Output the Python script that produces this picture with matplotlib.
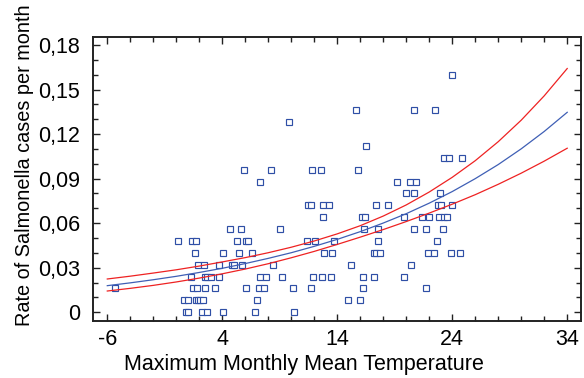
#!/usr/bin/env python3
"""
plot.py - Salmonella rate vs maximum monthly mean temperature
Scatter of monthly rates with fitted curve and confidence limits
"""

import matplotlib
matplotlib.use("Agg")
import matplotlib.pyplot as plt
from matplotlib.ticker import MultipleLocator, FuncFormatter

# Observed monthly rates (x = temperature, y = rate)
temp = [0.82, 0.99, 2.26, 2.70, 4.03, 6.87, 10.23,
        0.70, 1.04, 1.69, 1.86, 2.06, 2.35, 7.04, 14.90, 16.00,
        -5.33, 1.48, 1.77, 2.52, 3.39, 6.03, 7.19, 7.63, 10.12, 11.74, 16.23, 21.69,
        1.28, 2.52, 2.70, 3.04, 3.71, 7.28, 7.80, 9.22, 11.91, 12.64, 13.43, 16.23, 17.22, 19.83,
        1.86, 2.38, 3.71, 4.82, 5.02, 5.74, 8.38, 15.17, 20.43,
        1.60, 4.09, 5.45, 6.56, 12.82, 13.57, 17.17, 17.39, 17.69, 21.86, 22.43, 23.86, 24.70,
        0.17, 1.34, 1.71, 5.28, 6.03, 6.23, 11.34, 12.09, 13.74, 17.51, 22.70,
        4.70, 5.63, 9.04, 16.35, 17.51, 20.70, 21.69, 23.22,
        12.73, 16.12, 16.43, 19.83, 21.37, 22.00, 22.84, 23.28, 23.54,
        11.45, 11.74, 12.78, 13.30, 17.34, 18.43, 22.78, 23.04, 23.97,
        19.95, 20.70, 22.96,
        7.30, 19.17, 20.35, 20.84,
        5.89, 8.21, 11.83, 12.56, 15.83,
        23.25, 23.74, 24.82,
        16.47,
        9.80,
        15.65, 20.70, 22.53,
        23.95]

rate = [0.0] * 7 + [0.008] * 9 + [0.016] * 12 + [0.024] * 14 + [0.032] * 9 \
    + [0.040] * 13 + [0.048] * 11 + [0.056] * 8 + [0.064] * 9 + [0.072] * 9 \
    + [0.080] * 3 + [0.088] * 4 + [0.096] * 5 + [0.104] * 3 + [0.112] \
    + [0.128] + [0.136] * 3 + [0.160]

# Fitted curve and confidence limits
curve_x = [-6, -4, -2, 0, 2, 4, 6, 8, 10, 12, 14, 16, 18, 20, 22, 24, 26, 28, 30, 32, 34]
fit_y = [0.0179, 0.0198, 0.0219, 0.0242, 0.0268, 0.0296, 0.0328, 0.0363, 0.0401, 0.0444, 0.0491,
         0.0543, 0.0601, 0.0664, 0.0735, 0.0813, 0.0900, 0.0995, 0.1101, 0.1218, 0.1347]
upper_y = [0.0224, 0.0243, 0.0264, 0.0286, 0.0311, 0.0339, 0.0368, 0.0401, 0.0438, 0.0480, 0.0528,
           0.0583, 0.0648, 0.0723, 0.0810, 0.0909, 0.1021, 0.1149, 0.1294, 0.1458, 0.1642]
lower_y = [0.0143, 0.0161, 0.0181, 0.0204, 0.0230, 0.0259, 0.0291, 0.0327, 0.0367, 0.0410, 0.0457,
           0.0506, 0.0557, 0.0611, 0.0668, 0.0728, 0.0792, 0.0862, 0.0937, 0.1018, 0.1105]

x_ticks = [-6, 4, 14, 24, 34]
y_ticks = [0, 0.03, 0.06, 0.09, 0.12, 0.15, 0.18]


def comma_fmt(v, pos):
    if abs(v) < 1e-9:
        return "0"
    return f"{v:.2f}".replace(".", ",")


def make_chart():
    plt.rcParams['font.family'] = ['Liberation Sans', 'DejaVu Sans']
    plt.rcParams['axes.unicode_minus'] = False

    fig = plt.figure(figsize=(5.84, 3.78), dpi=100)
    ax = fig.add_axes([0.1587, 0.1508, 0.8356, 0.75])

    ax.plot(temp, rate, linestyle='none', marker='s', markersize=3.9,
            markerfacecolor='white', markeredgecolor='#2f4fa6', markeredgewidth=0.85)

    ax.plot(curve_x, fit_y, color='#3f5fb5', linewidth=0.9)
    ax.plot(curve_x, upper_y, color='#ee2222', linewidth=0.9)
    ax.plot(curve_x, lower_y, color='#ee2222', linewidth=0.9)

    ax.set_xlim(-7.27, 35.17)
    ax.set_ylim(-0.0059, 0.1851)

    ax.set_xticks(x_ticks)
    ax.set_yticks(y_ticks)
    ax.xaxis.set_minor_locator(MultipleLocator(2))
    ax.yaxis.set_minor_locator(MultipleLocator(0.01))
    ax.yaxis.set_major_formatter(FuncFormatter(comma_fmt))

    ax.tick_params(which='both', direction='in', top=True, right=True,
                   width=1.0, color='#222222')
    ax.tick_params(which='major', length=5, labelsize=15.5)
    ax.tick_params(which='minor', length=3.5)
    ax.tick_params(axis='x', which='major', pad=6)
    ax.tick_params(axis='y', which='major', pad=9)

    for s in ax.spines.values():
        s.set_linewidth(1.4)
        s.set_color('#222222')

    ax.set_xlabel('Maximum Monthly Mean Temperature', fontsize=15.5)
    # slightly smaller than the original so the whole label stays on the canvas
    ax.set_ylabel('Rate of Salmonella cases per month', fontsize=14.3)
    ax.xaxis.set_label_coords(0.432, -0.118)
    ax.yaxis.set_label_coords(-0.12, 0.548)

    fig.savefig('out.png', dpi=100)


if __name__ == "__main__":
    make_chart()
